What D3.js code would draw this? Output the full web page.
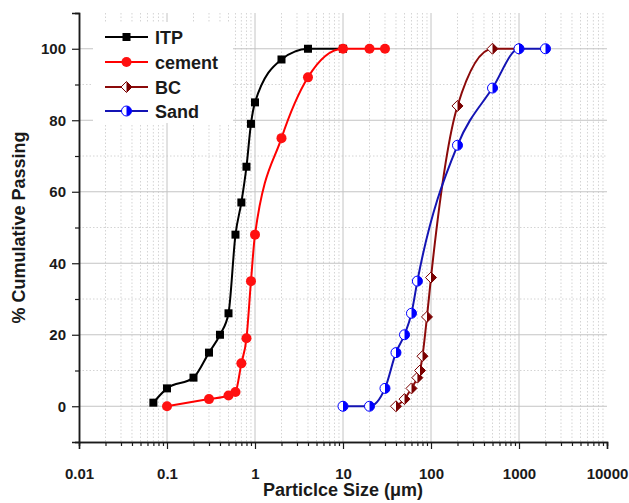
<!DOCTYPE html>
<html>
<head>
<meta charset="utf-8">
<script src="https://cdn.jsdelivr.net/npm/d3@7"></script>
<style>
  body { margin: 0; background: #fff; }
  text { font-family: 'Liberation Sans', Arial, sans-serif; font-weight: bold; fill: #1a1a1a; }
</style>
</head>
<body>
<script>
// particle size (um) / cumulative passing (%)
const itpSize = [0.07, 0.1, 0.2, 0.3, 0.4, 0.5, 0.6, 0.7, 0.8, 0.9, 1, 2, 4, 10]
const itpPassing = [1, 5, 8, 15, 20, 26, 48, 57, 67, 79, 85, 97, 100, 100]
const cementSize = [0.1, 0.3, 0.5, 0.6, 0.7, 0.8, 0.9, 1, 2, 4, 10, 20, 30]
const cementPassing = [0, 2, 3, 4, 12, 19, 35, 48, 75, 92, 100, 100, 100]
const bcSize = [40, 50, 60, 70, 75, 80, 90, 100, 200, 500, 1000]
const bcPassing = [0, 2, 5, 8, 10, 14, 25, 36, 84, 100, 100]
const sandSize = [10, 20, 30, 40, 50, 60, 70, 200, 500, 1000, 2000]
const sandPassing = [0, 0, 5, 15, 20, 26, 35, 73, 89, 100, 100]

const seriesNames = ['ITP', 'cement', 'BC', 'Sand']
const xTickValues = [0.01, 0.1, 1, 10, 100, 1000, 10000]
const xTickLabels = ['0.01', '0.1', '1', '10', '100', '1000', '10000']
const yTickValues = [0, 20, 40, 60, 80, 100]

const width = 629
const height = 503
const plotLeft = 79, plotRight = 607, plotTop = 13, plotBottom = 442

const series = [
  { name: seriesNames[0], size: itpSize, pass: itpPassing, line: '#000', fill: '#000', shape: 'square' },
  { name: seriesNames[1], size: cementSize, pass: cementPassing, line: '#ff0000', fill: '#ff1010', shape: 'circle' },
  { name: seriesNames[2], size: bcSize, pass: bcPassing, line: '#8b0a0a', fill: '#7a0000', shape: 'diamond' },
  { name: seriesNames[3], size: sandSize, pass: sandPassing, line: '#1414b4', fill: '#0000ff', shape: 'halfcircle' }
]

const x = d3.scaleLog().domain([0.01, 10000]).range([plotLeft, plotRight])
const y = d3.scaleLinear().domain([-10, 110]).range([plotBottom, plotTop])

const svg = d3.select('body').append('svg')
  .attr('width', width)
  .attr('height', height)

// grid
const minorX = x.ticks().filter(v => Math.abs(Math.log10(v) - Math.round(Math.log10(v))) > 1e-6)
const grid = svg.append('g')
grid.selectAll('.mx').data(minorX).enter().append('line')
  .attr('x1', d => x(d)).attr('x2', d => x(d))
  .attr('y1', plotTop).attr('y2', plotBottom)
  .style('stroke', '#d4d4d4').style('stroke-dasharray', '1.5,2')
grid.selectAll('.my').data([10, 30, 50, 70, 90]).enter().append('line')
  .attr('x1', plotLeft).attr('x2', plotRight)
  .attr('y1', d => y(d)).attr('y2', d => y(d))
  .style('stroke', '#d4d4d4').style('stroke-dasharray', '1.5,2')
grid.selectAll('.Mx').data(xTickValues.slice(1, -1)).enter().append('line')
  .attr('x1', d => x(d)).attr('x2', d => x(d))
  .attr('y1', plotTop).attr('y2', plotBottom)
  .style('stroke', '#c4c4c4')
grid.selectAll('.My').data(yTickValues).enter().append('line')
  .attr('x1', plotLeft).attr('x2', plotRight)
  .attr('y1', d => y(d)).attr('y2', d => y(d))
  .style('stroke', '#c4c4c4')

// legend box sits over the grid
svg.append('rect')
  .attr('x', 93).attr('y', 22)
  .attr('width', 140).attr('height', 101)
  .style('fill', '#fff')

// axes
svg.append('g').attr('transform', `translate(0,${plotBottom})`)
  .call(d3.axisBottom(x).tickValues(xTickValues).tickSize(7).tickPadding(19)
    .tickFormat((d, i) => xTickLabels[i]))
svg.append('g').attr('transform', `translate(0,${plotBottom})`)
  .call(d3.axisBottom(x).tickValues(minorX).tickSize(4).tickFormat(''))
svg.append('g').attr('transform', `translate(${plotLeft},0)`)
  .call(d3.axisLeft(y).tickValues(yTickValues).tickSize(7).tickPadding(6))
svg.append('g').attr('transform', `translate(${plotLeft},0)`)
  .call(d3.axisLeft(y).tickValues([-10, 10, 30, 50, 70, 90, 110]).tickSize(4).tickFormat(''))

svg.selectAll('.domain').style('stroke', '#1a1a1a').style('stroke-width', 1.5)
svg.selectAll('.tick line').style('stroke', '#1a1a1a').style('stroke-width', 1.2)
svg.selectAll('.tick text')
  .style('font-size', '15px')
  .style('font-family', "'Liberation Sans', Arial, sans-serif")
  .style('font-weight', 'bold')
  .style('fill', '#1a1a1a')

svg.append('text')
  .attr('x', (plotLeft + plotRight) / 2).attr('y', 496)
  .attr('text-anchor', 'middle')
  .style('font-size', '18px')
  .text('Particlce Size (\u03bcm)')
svg.append('text')
  .attr('transform', `translate(25,${(plotTop + plotBottom) / 2}) rotate(-90)`)
  .attr('text-anchor', 'middle')
  .style('font-size', '18px')
  .text('% Cumulative Passing')

// markers
function drawMarker(g, s, cx, cy) {
  if (s.shape === 'square') {
    g.append('rect').attr('x', cx - 4).attr('y', cy - 4).attr('width', 8).attr('height', 8)
      .style('fill', s.fill)
  } else if (s.shape === 'circle') {
    g.append('circle').attr('cx', cx).attr('cy', cy).attr('r', 5)
      .style('fill', s.fill)
  } else if (s.shape === 'diamond') {
    const w = 5.5, h = 5.5
    g.append('path').attr('d', `M${cx},${cy - h}L${cx + w},${cy}L${cx},${cy + h}L${cx - w},${cy}Z`)
      .style('fill', '#fff').style('stroke', s.fill).style('stroke-width', 1)
    g.append('path').attr('d', `M${cx},${cy - h}L${cx + w},${cy}L${cx},${cy + h}Z`)
      .style('fill', s.fill)
  } else {
    const r = 5
    g.append('circle').attr('cx', cx).attr('cy', cy).attr('r', r)
      .style('fill', '#fff').style('stroke', s.fill).style('stroke-width', 1)
    g.append('path').attr('d', `M${cx},${cy - r}A${r},${r} 0 0 1 ${cx},${cy + r}Z`)
      .style('fill', s.fill)
  }
}

const line = d3.line()
  .x(d => x(d[0]))
  .y(d => y(d[1]))
  .curve(d3.curveMonotoneX)

series.forEach(s => {
  const pts = s.size.map((v, i) => [v, s.pass[i]])
  const g = svg.append('g')
  g.append('path')
    .attr('d', line(pts))
    .style('fill', 'none')
    .style('stroke', s.line)
    .style('stroke-width', 2)
  pts.forEach(p => drawMarker(g, s, x(p[0]), y(p[1])))
})

// legend
const legendRows = [37, 62, 87, 111]
series.forEach((s, i) => {
  const g = svg.append('g')
  const ly = legendRows[i]
  g.append('line')
    .attr('x1', 105).attr('x2', 148)
    .attr('y1', ly).attr('y2', ly)
    .style('stroke', s.line).style('stroke-width', 2)
  drawMarker(g, s, 126.5, ly)
  g.append('text')
    .attr('x', 155).attr('y', ly + 6.5)
    .style('font-size', '18px')
    .text(s.name)
})
</script>
</body>
</html>
